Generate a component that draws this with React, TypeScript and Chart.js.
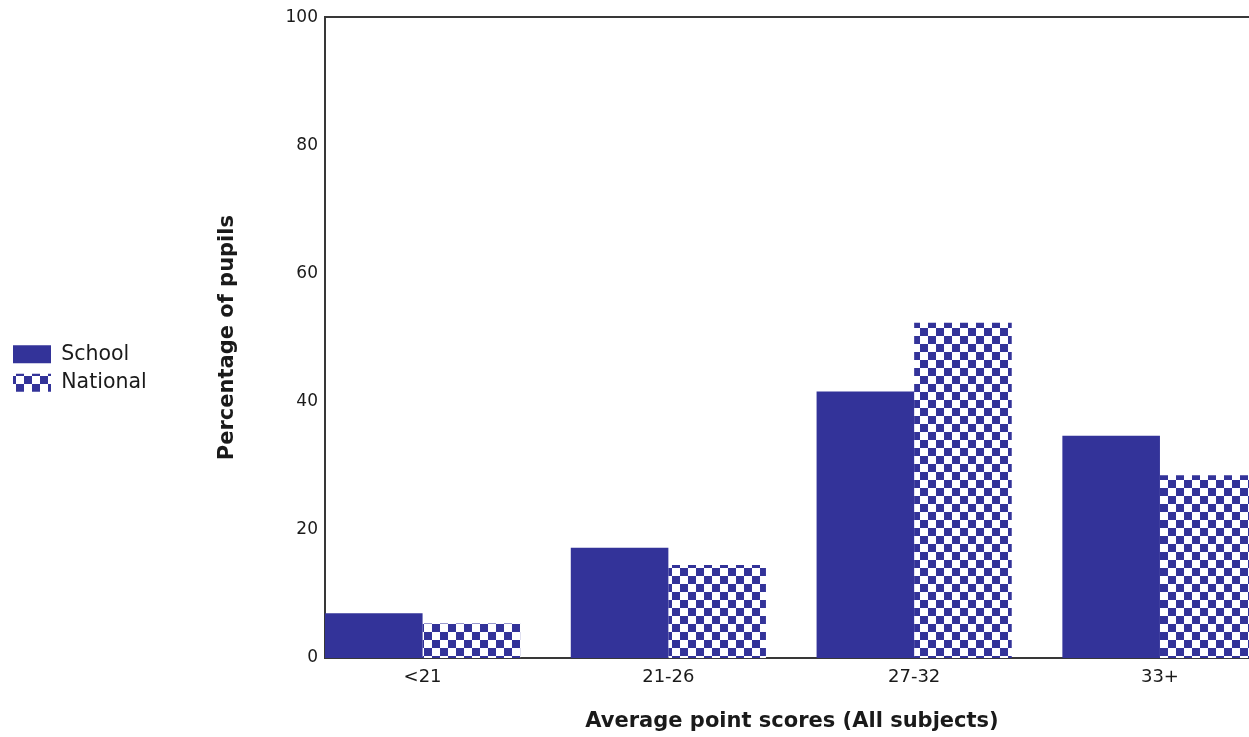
import React, { useEffect, useRef } from "react";
import { Chart, registerables } from "chart.js";

Chart.register(...registerables);

const categories = ["<21", "21-26", "27-32", "33+"];
const schoolValues = [7.0, 17.2, 41.6, 34.7];
const nationalValues = [5.4, 14.5, 52.3, 28.5];
const yMin = 0;
const yMax = 100;
const yStep = 20;
const seriesNames = ["School", "National"];

const BLUE = "#333399";
const FONT = "'DejaVu Sans', sans-serif";
const GROUP = 0.794; // fraction of category width taken by the bar group

function makeChecker(): CanvasPattern | string {
  const pc = document.createElement("canvas");
  pc.width = 16;
  pc.height = 16;
  const ctx = pc.getContext("2d");
  if (!ctx) return BLUE;
  ctx.fillStyle = "#ffffff";
  ctx.fillRect(0, 0, 16, 16);
  ctx.fillStyle = BLUE;
  ctx.fillRect(0, 0, 8, 8);
  ctx.fillRect(8, 8, 8, 8);
  return ctx.createPattern(pc, "repeat") || BLUE;
}

export default function App() {
  const ref = useRef<HTMLCanvasElement | null>(null);

  useEffect(() => {
    if (!ref.current) return;
    const checker = makeChecker();
    const toPoints = (vals: number[]) =>
      vals.map((v, i) => ({ x: i + GROUP / 2, y: v }));

    const chart = new Chart(ref.current, {
      type: "bar",
      data: {
        datasets: [
          {
            label: seriesNames[0],
            data: toPoints(schoolValues),
            backgroundColor: BLUE,
            borderWidth: 0,
          },
          {
            label: seriesNames[1],
            data: toPoints(nationalValues),
            backgroundColor: checker as any,
            borderWidth: 0,
          },
        ],
      },
      options: {
        responsive: false,
        animation: false,
        devicePixelRatio: 1,
        datasets: {
          bar: { categoryPercentage: GROUP, barPercentage: 1 },
        },
        layout: { padding: { left: 5, top: 0, right: 0, bottom: 0 } },
        plugins: {
          tooltip: { enabled: false },
          legend: {
            position: "left",
            align: "center",
            labels: {
              boxWidth: 38,
              boxHeight: 18,
              padding: 8,
              color: "#1a1a1a",
              font: { family: FONT, size: 20.5 },
            },
          },
        },
        scales: {
          x: {
            type: "linear",
            position: "bottom",
            offset: false,
            min: 0,
            max: 3.8,
            afterBuildTicks: (axis: any) => {
              axis.ticks = categories.map((_, i) => ({ value: i + GROUP / 2 }));
            },
            afterFit: (scale: any) => {
              scale.height = 79;
            },
            ticks: {
              padding: 9,
              color: "#1a1a1a",
              font: { family: FONT, size: 18 },
              callback: (_v: any, index: number) => categories[index],
            },
            grid: { display: false, drawTicks: false, offset: false },
            border: { display: true, color: "#383838", width: 2 },
            title: {
              display: true,
              text: "Average point scores (All subjects)",
              color: "#1a1a1a",
              font: { family: FONT, size: 21, weight: "bold" },
              padding: { top: 0, bottom: 3 },
            },
          },
          top: {
            type: "linear",
            position: "top",
            offset: false,
            min: 0,
            max: 1,
            afterFit: (scale: any) => {
              scale.height = 15;
            },
            ticks: { display: false },
            grid: { display: false, drawTicks: false },
            border: { display: true, color: "#383838", width: 2 },
          },
          y: {
            min: yMin,
            max: yMax,
            afterFit: (scale: any) => {
              const lw = scale.chart.legend ? scale.chart.legend.width : 147;
              scale.width = 325 - 5 - lw;
            },
            ticks: {
              stepSize: yStep,
              padding: 7,
              color: "#1a1a1a",
              font: { family: FONT, size: 17 },
            },
            grid: { display: false, drawTicks: false },
            border: { display: true, color: "#383838", width: 2 },
            title: {
              display: true,
              text: "Percentage of pupils",
              color: "#1a1a1a",
              font: { family: FONT, size: 21, weight: "bold" },
              padding: { top: 58, bottom: 0 },
            },
          },
        },
      } as any,
    });
    return () => chart.destroy();
  }, []);

  return (
    <div
      style={{
        position: "absolute",
        left: 0,
        top: 0,
        width: 1249,
        height: 737,
        overflow: "hidden",
        background: "#fff",
      }}
    >
      <canvas ref={ref} width={1259} height={737} />
    </div>
  );
}
